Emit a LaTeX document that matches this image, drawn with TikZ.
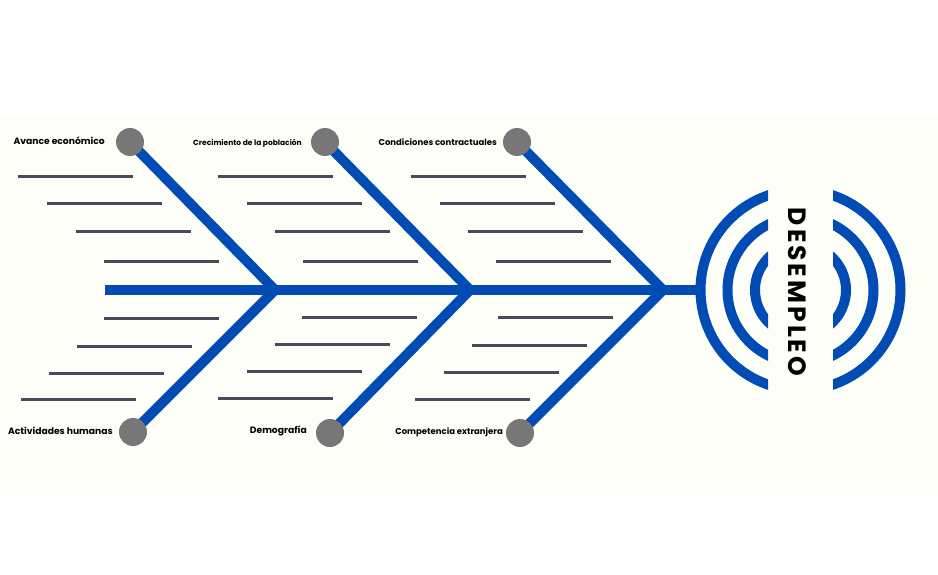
\documentclass[tikz,border=0pt]{standalone}
\usepackage{fontspec}
\setmainfont{Poppins}
\usetikzlibrary{backgrounds}
\definecolor{bgc}{HTML}{FDFEF8}
\definecolor{fishblue}{HTML}{004CB5}
\definecolor{dotgray}{HTML}{777777}
\definecolor{linegray}{HTML}{474B5C}
\tikzset{
  bone/.style={draw=fishblue, line width=10pt},
  ring/.style={draw=fishblue, line width=10pt},
  dot/.style={circle, fill=dotgray, inner sep=0pt, minimum size=28pt},
  rib/.style={draw=linegray, line width=3pt},
  lab/.style={anchor=east, inner sep=0pt, text=black, font=\bfseries},
}
\begin{document}
\begin{tikzpicture}[x=1pt,y=-1pt]
\useasboundingbox (0,0) rectangle (938,575);
% circles
\node[dot] (c1) at (130,142) {};
\node[dot] (c2) at (325,142) {};
\node[dot] (c3) at (517,142) {};
\node[dot] (d1) at (133,432) {};
\node[dot] (d2) at (330,433) {};
\node[dot] (d3) at (520,433) {};
% spine points
\coordinate (tail) at (105,290);
\coordinate (head) at (700,290);
\coordinate (j1) at (275,290);
\coordinate (j2) at (470,290);
\coordinate (j3) at (663,290);
\begin{pgfonlayer}{background}
\fill[bgc] (0,115) rectangle (938,494);
% ribs
\foreach \xa/\y in {18/177,47/204,76/232,104/261, 218/177,247/204,275/232,303/261, 411/177,440/204,468/232,496/261,
                    104/318,77/346,49/373,21/399, 302/317,275/344,247/371,218/398, 498/317,472/345,444/372,415/399}
  \draw[rib] (\xa,\y) -- ++(115,0);
\draw[bone] (tail) -- (head);
\draw[bone] (j1) -- (c1.center);
\draw[bone] (j2) -- (c2.center);
\draw[bone] (j3) -- (c3.center);
\draw[bone] (j1) -- (d1.center);
\draw[bone] (j2) -- (d2.center);
\draw[bone] (j3) -- (d3.center);
\end{pgfonlayer}
% labels
\node[lab, font=\bfseries\fontsize{9.2}{10}\selectfont] (l1) at (105,141) {Avance económico};
\node[lab, font=\bfseries\fontsize{7.5}{8}\selectfont] (l2) at (302,143) {Crecimiento de la población};
\node[lab, font=\bfseries\fontsize{8.5}{9}\selectfont] (l3) at (497,142) {Condiciones contractuales};
\node[lab, font=\bfseries\fontsize{9.2}{10}\selectfont] (m1) at (113,431) {Actividades humanas};
\node[lab, font=\bfseries\fontsize{9.2}{10}\selectfont] (m2) at (307,431) {Demografía};
\node[lab, font=\bfseries\fontsize{8.5}{9}\selectfont] (m3) at (503,432) {Competencia extranjera};
% rings
\begin{scope}
\clip (680,100) rectangle (768,480) (833,100) rectangle (920,480);
\foreach \r in {100,73,45.5}
  \draw[ring] (800.5,290) circle[radius=\r pt];
\end{scope}
\node[rotate=-90, inner sep=0pt, text=black,
      font=\bfseries\fontsize{25}{25}\selectfont\addfontfeature{LetterSpace=12}] (title) at (797.5,292) {DESEMPLEO};
\end{tikzpicture}
\end{document}
